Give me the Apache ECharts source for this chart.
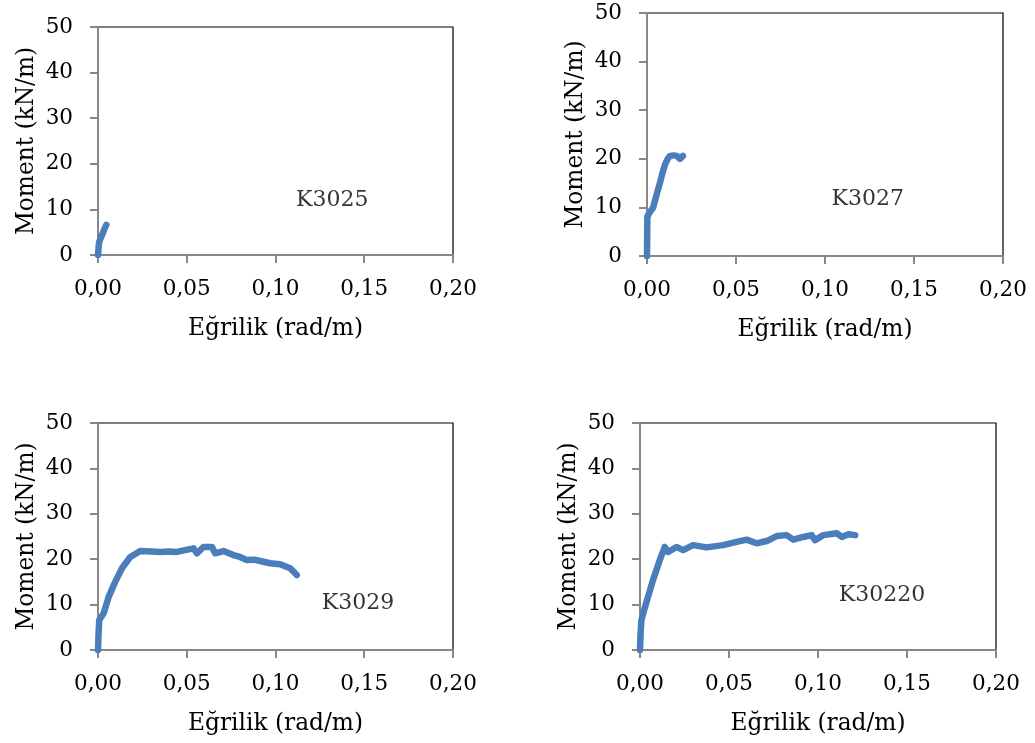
<!DOCTYPE html>
<html>
<head>
<meta charset="utf-8">
<script src="https://cdn.jsdelivr.net/npm/echarts@6/dist/echarts.min.js"></script>
<style>
html,body{margin:0;padding:0;background:#fff;}
#chart{width:1035px;height:743px;}
</style>
</head>
<body>
<div id="chart"></div>
<script>
// ---- data ----
var xTickLabels = ['0,00', '0,05', '0,10', '0,15', '0,20'];
var yTickLabels = ['0', '10', '20', '30', '40', '50'];
var xTitle = 'Eğrilik (rad/m)';
var yTitle = 'Moment (kN/m)';
var panelNames = ['K3025', 'K3027', 'K3029', 'K30220'];
// annotation positions [x, y] in data units
var labelPos = [[0.132, 12.1], [0.124, 11.6], [0.1465, 10.3], [0.136, 12.1]];

var k3025 = [[0, 0], [0.0004, 2.0], [0.0007, 2.9], [0.0015, 3.7], [0.0025, 4.6], [0.0035, 5.6], [0.0042, 6.2], [0.0047, 6.6]];
var k3027 = [[0, 0], [0.0001, 4.0], [0.0002, 8.1], [0.0015, 9.0], [0.0034, 9.9], [0.0055, 12.8], [0.0073, 15.1],
  [0.0088, 17.2], [0.0101, 18.8], [0.0115, 19.9], [0.0129, 20.6], [0.0150, 20.7], [0.0167, 20.6], [0.0185, 20.0], [0.0202, 20.6]];
var k3029 = [[0, 0], [0.0003, 3.5], [0.0007, 6.6], [0.0032, 8.1], [0.006, 11.7], [0.0097, 15.0], [0.0135, 18.0],
  [0.0182, 20.5], [0.0238, 21.8], [0.030, 21.7], [0.035, 21.6], [0.040, 21.7], [0.0445, 21.6], [0.049, 22.0],
  [0.0538, 22.4], [0.0557, 21.3], [0.0595, 22.7], [0.0642, 22.7], [0.066, 21.3], [0.0707, 21.8], [0.0763, 20.9],
  [0.0800, 20.5], [0.0839, 19.8], [0.0880, 19.9], [0.0914, 19.6], [0.097, 19.1], [0.1026, 18.9], [0.1083, 18.0], [0.112, 16.5]];
var k30220 = [[0, 0], [0.0003, 3.5], [0.0008, 6.6], [0.0026, 9.2], [0.0073, 15.4], [0.0111, 19.8], [0.0139, 22.7],
  [0.0158, 21.6], [0.0205, 22.7], [0.0242, 22.0], [0.0298, 23.1], [0.0374, 22.6], [0.0467, 23.1], [0.0543, 23.8],
  [0.0599, 24.3], [0.0655, 23.5], [0.0712, 24.0], [0.0768, 25.1], [0.0824, 25.3], [0.0861, 24.3], [0.0918, 24.9],
  [0.0965, 25.3], [0.0983, 24.2], [0.103, 25.3], [0.1106, 25.7], [0.1134, 24.9], [0.1171, 25.5], [0.1209, 25.3]];
var seriesData = [k3025, k3027, k3029, k30220];

// ---- layout ----
var grids = [
  {left: 98, top: 27, width: 355, height: 228},
  {left: 647, top: 13, width: 356, height: 243},
  {left: 98, top: 423, width: 355, height: 227},
  {left: 640, top: 423, width: 356, height: 227}
];
var FONT = 'DejaVu Serif';
var FS_TICK = 21.5;
var FS_TITLE = 23.3;
var FS_NOTE = 22;
var blue = '#4a7ebb';

var option = {
  animation: false,
  backgroundColor: '#fff',
  grid: grids.map(function (g) {
    return Object.assign({show: true, borderColor: '#000', borderWidth: 1.2, backgroundColor: 'transparent'}, g);
  }),
  xAxis: grids.map(function (g, i) {
    return {
      gridIndex: i, type: 'value', min: 0, max: 0.2, interval: 0.05,
      name: xTitle, nameLocation: 'middle', nameGap: 62,
      nameTextStyle: {fontFamily: FONT, fontSize: FS_TITLE, color: '#000'},
      axisLine: {show: true, lineStyle: {color: '#888', width: 2}},
      axisTick: {show: true, inside: false, length: 8, lineStyle: {color: '#888', width: 2}},
      splitLine: {show: false},
      axisLabel: {
        margin: 23, fontFamily: FONT, fontSize: FS_TICK, color: '#000',
        formatter: function (v) { return xTickLabels[Math.round(v / 0.05)]; }
      }
    };
  }),
  yAxis: grids.map(function (g, i) {
    return {
      gridIndex: i, type: 'value', min: 0, max: 50, interval: 10,
      name: yTitle, nameLocation: 'middle', nameGap: 60, nameRotate: 90,
      nameTextStyle: {fontFamily: FONT, fontSize: FS_TITLE, color: '#000'},
      axisLine: {show: true, lineStyle: {color: '#888', width: 2}},
      axisTick: {show: true, inside: false, length: 8, lineStyle: {color: '#888', width: 2}},
      splitLine: {show: false},
      axisLabel: {
        margin: 25, fontFamily: FONT, fontSize: FS_TICK, color: '#000',
        formatter: function (v) { return yTickLabels[Math.round(v / 10)]; }
      }
    };
  }),
  series: []
};

seriesData.forEach(function (d, i) {
  option.series.push({
    type: 'line', xAxisIndex: i, yAxisIndex: i, data: d,
    showSymbol: false, symbol: 'none', smooth: false,
    lineStyle: {color: blue, width: 6.5, cap: 'round', join: 'round'},
    z: 3
  });
  option.series.push({
    type: 'scatter', xAxisIndex: i, yAxisIndex: i,
    data: [{value: labelPos[i], name: panelNames[i]}],
    symbolSize: 1, itemStyle: {color: 'transparent'},
    label: {show: true, position: 'inside', formatter: '{b}', fontFamily: FONT, fontSize: FS_NOTE, color: '#000'},
    z: 4
  });
});

var chart = echarts.init(document.getElementById('chart'), null, {renderer: 'canvas'});
chart.setOption(option);
</script>
</body>
</html>
